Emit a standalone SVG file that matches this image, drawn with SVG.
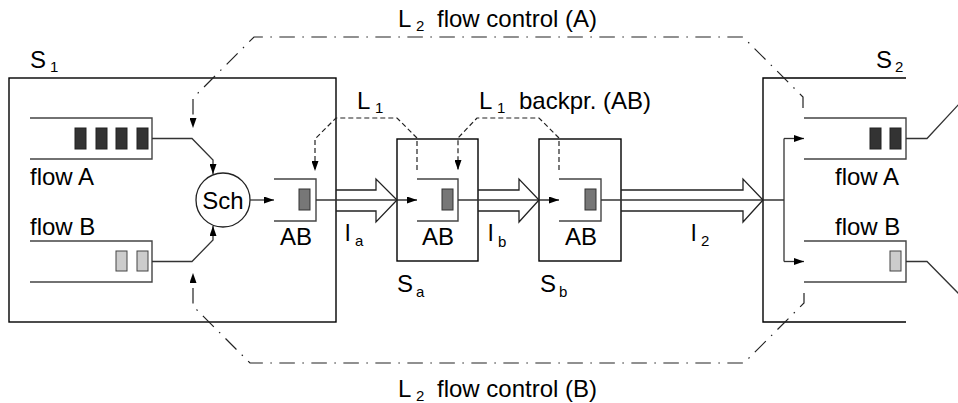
<svg xmlns="http://www.w3.org/2000/svg" width="958" height="403" viewBox="0 0 958 403">
<defs>
<marker id="ah" markerUnits="userSpaceOnUse" markerWidth="10" markerHeight="7" refX="10" refY="3.5" orient="auto">
<path d="M0,0 L10,3.5 L0,7 z" fill="#000"/>
</marker>
<style>
text{font-family:"Liberation Sans",Arial,sans-serif;font-size:24px;fill:#000}
.sub{font-size:15px}
.box{fill:none;stroke:#000;stroke-width:1.4}
.q{fill:none;stroke:#444;stroke-width:1.4}
.pd{fill:#333;stroke:#222;stroke-width:1}
.pm{fill:#777;stroke:#333;stroke-width:1}
.pl{fill:#ccc;stroke:#444;stroke-width:1}
.ln{fill:none;stroke:#333;stroke-width:1.3}
.big{fill:none;stroke:#222;stroke-width:1.3}
.dash{fill:none;stroke:#222;stroke-width:1.2;stroke-dasharray:5 3}
.dd{fill:none;stroke:#222;stroke-width:1.2;stroke-dasharray:15.5 7.5 1.5 7.5}
.mid{text-anchor:middle}
</style>
</defs>

<g id="labels">
<text x="398" y="27">L</text><text class="sub" x="416" y="31">2</text><text x="437" y="27">flow control (A)</text>
<text x="398" y="397">L</text><text class="sub" x="416" y="401">2</text><text x="437" y="397">flow control (B)</text>
<text x="357" y="109">L</text><text class="sub" x="375" y="113">1</text>
<text x="479" y="109">L</text><text class="sub" x="497" y="113">1</text><text x="519" y="109">backpr. (AB)</text>
<text x="345" y="241">l</text><text class="sub" x="355" y="246">a</text>
<text x="488" y="241">l</text><text class="sub" x="498" y="247">b</text>
<text x="691" y="241">l</text><text class="sub" x="701" y="246">2</text>
</g>

<g id="S1">
<rect class="box" x="9" y="78" width="327" height="244"/>
<text x="30" y="68">S</text><text class="sub" x="50" y="72">1</text>
</g>

<g id="flowA-S1">
<path class="q" d="M30,118 H152 V159 H30"/>
<rect class="pd" x="75" y="128" width="11" height="21"/>
<rect class="pd" x="96" y="128" width="11" height="21"/>
<rect class="pd" x="116" y="128" width="11" height="21"/>
<rect class="pd" x="137" y="128" width="11" height="21"/>
<text x="30" y="185">flow A</text>
</g>

<g id="flowB-S1">
<path class="q" d="M30,241 H152 V282 H30"/>
<rect class="pl" x="116" y="251" width="11" height="20"/>
<rect class="pl" x="137" y="251" width="11" height="20"/>
<text x="30" y="235">flow B</text>
</g>

<g id="Sch">
<circle cx="223" cy="200" r="27" fill="none" stroke="#222" stroke-width="1.3"/>
<text class="mid" x="223" y="209">Sch</text>
</g>

<g id="AB-S1">
<path class="q" d="M274,179 H316 V221 H274"/>
<rect class="pm" x="299" y="189" width="11" height="21"/>
<text class="mid" x="296" y="245">AB</text>
</g>

<g id="Sa">
<rect class="box" x="397" y="139" width="81" height="122" stroke="#333"/>
<path class="q" d="M417,179 H458 V221 H417"/>
<rect class="pm" x="442" y="189" width="11" height="21"/>
<text class="mid" x="438" y="245">AB</text>
<text x="397" y="292">S</text><text class="sub" x="416" y="297">a</text>
</g>

<g id="Sb">
<rect class="box" x="539" y="139" width="82" height="122" stroke="#333"/>
<path class="q" d="M559,179 H601 V221 H559"/>
<rect class="pm" x="585" y="189" width="11" height="21"/>
<text class="mid" x="581" y="245">AB</text>
<text x="540" y="292">S</text><text class="sub" x="559" y="297">b</text>
</g>

<g id="S2">
<path class="box" d="M906,78 H763 V322 H906"/>
<text x="876" y="68">S</text><text class="sub" x="895" y="72">2</text>
</g>

<g id="flowA-S2">
<path class="q" d="M804,118 H906 V159 H804"/>
<rect class="pd" x="870" y="128" width="11" height="21"/>
<rect class="pd" x="890" y="128" width="11" height="21"/>
<text x="835" y="185">flow A</text>
</g>

<g id="flowB-S2">
<path class="q" d="M804,241 H906 V282 H804"/>
<rect class="pl" x="890" y="251" width="11" height="20"/>
<text x="835" y="235">flow B</text>
</g>

<g id="connectors">
<polyline class="ln" points="152,138.5 192,138.5 213,160 213,174" marker-end="url(#ah)"/>
<polyline class="ln" points="152,261.5 192,261.5 213,240 213,226" marker-end="url(#ah)"/>
<line class="ln" x1="250" y1="200" x2="274" y2="200" marker-end="url(#ah)"/>
<line class="ln" x1="316" y1="200" x2="417" y2="200" marker-end="url(#ah)"/>
<line class="ln" x1="458" y1="200" x2="559" y2="200" marker-end="url(#ah)"/>
<polyline class="ln" points="601,200 784,200"/>
<line class="ln" x1="784" y1="138.5" x2="784" y2="261.5"/>
<line class="ln" x1="784" y1="138.5" x2="804" y2="138.5" marker-end="url(#ah)"/>
<line class="ln" x1="784" y1="261.5" x2="804" y2="261.5" marker-end="url(#ah)"/>
<polyline class="ln" points="906,138.5 927,138.5 960,103"/>
<polyline class="ln" points="906,261.5 927,261.5 960,295"/>
<polyline class="big" points="336,190 376,190 376,179 397,200 376,222 376,211 336,211"/>
<polyline class="big" points="478,190 519,190 519,179 539,200 519,222 519,211 478,211"/>
<polyline class="big" points="621,190 743,190 743,179 763,200 743,222 743,211 621,211"/>
<path class="dash" d="M417,170 V138 L397,118 H336 L315,139 V171" marker-end="url(#ah)"/>
<path class="dash" d="M559,170 V138 L539,118 H477 L458,138 V170" marker-end="url(#ah)"/>
<path class="dd" d="M803,108 V97 L743,37 H254 L193,98 V128" marker-end="url(#ah)"/>
<path class="dd" d="M804,293 V303 L744,363 H250 L193,306 V273" marker-end="url(#ah)"/>
</g>
</svg>
